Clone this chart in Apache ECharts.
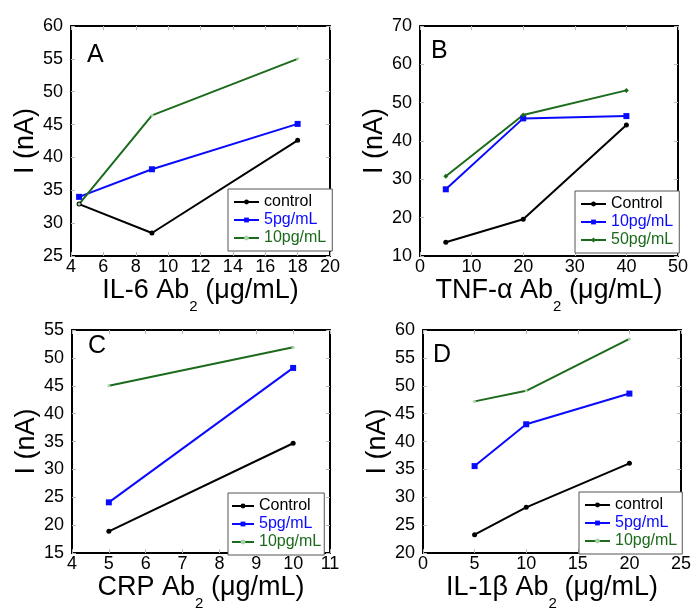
<!DOCTYPE html>
<html><head><meta charset="utf-8">
<script src="https://cdn.jsdelivr.net/npm/echarts@6/dist/echarts.min.js"></script>
<style>html,body{margin:0;padding:0;background:#fff}#c{width:694px;height:612px}</style>
</head><body><div id="c"></div>
<script>
// ---- data ----
const xA = [4.5, 9, 18];
const A_control = [32.9, 28.5, 42.6];
const A_5pg = [34.0, 38.2, 45.1];
const A_10pg = [32.9, 46.4, 55.0];

const xB = [5, 20, 40];
const B_control = [13.6, 19.6, 44.2];
const B_10pg = [27.4, 45.9, 46.5];
const B_50pg = [30.8, 46.8, 53.2];

const xC = [5, 10];
const C_control = [18.9, 34.7];
const C_5pg = [24.1, 48.2];
const C_10pg = [45.0, 51.9];

const xD = [5, 10, 20];
const D_control = [23.3, 28.2, 36.1];
const D_5pg = [35.6, 43.1, 48.6];
const D_10pg = [47.2, 49.1, 58.4];

const titlesX = ['IL-6 Ab{s|2} (μg/mL)', 'TNF-α Ab{s|2} (μg/mL)', 'CRP Ab{s|2} (μg/mL)', 'IL-1β Ab{s|2} (μg/mL)'];
const titleY = 'I (nA)';
const letters = ['A', 'B', 'C', 'D'];

// ---- styling ----
const FONT = 'Liberation Sans, Arial, sans-serif';
const BLACK = '#000000', BLUE = '#0a0aff', GREEN = '#1c6b1c', PALE = '#a8d4a8';

const panels = [
  { grid: {left: 71, top: 26, width: 259, height: 230}, x: [4, 20, 2], y: [25, 60, 5],
    legend: {left: 228, top: 189, w: 25, pad: [5, 6, 5, 5]}, letter: {x: 87, y: 56},
    series: [
      {name: 'control', xs: xA, ys: A_control, color: BLACK, symbol: 'circle', size: 5, symColor: BLACK},
      {name: '5pg/mL', xs: xA, ys: A_5pg, color: BLUE, symbol: 'rect', size: 6, symColor: BLUE},
      {name: '10pg/mL', xs: xA, ys: A_10pg, color: GREEN, symbol: 'circle', size: 3, symColor: PALE}
    ]},
  { grid: {left: 420, top: 26, width: 258, height: 230}, x: [0, 50, 10], y: [10, 70, 10],
    legend: {left: 575, top: 191, w: 25, pad: [5, 6, 5, 5]}, letter: {x: 431, y: 52},
    series: [
      {name: 'Control', xs: xB, ys: B_control, color: BLACK, symbol: 'circle', size: 5, symColor: BLACK},
      {name: '10pg/mL', xs: xB, ys: B_10pg, color: BLUE, symbol: 'rect', size: 6, symColor: BLUE},
      {name: '50pg/mL', xs: xB, ys: B_50pg, color: GREEN, symbol: 'diamond', size: 5, symColor: GREEN}
    ]},
  { grid: {left: 72, top: 330, width: 258, height: 228}, x: [4, 11, 1], y: [15, 55, 5],
    legend: {left: 228, top: 493, w: 22, pad: [5, 3, 5, 3]}, letter: {x: 88, y: 347},
    series: [
      {name: 'Control', xs: xC, ys: C_control, color: BLACK, symbol: 'circle', size: 5, symColor: BLACK},
      {name: '5pg/mL', xs: xC, ys: C_5pg, color: BLUE, symbol: 'rect', size: 6, symColor: BLUE},
      {name: '10pg/mL', xs: xC, ys: C_10pg, color: GREEN, symbol: 'circle', size: 3, symColor: PALE}
    ]},
  { grid: {left: 423, top: 330, width: 258, height: 229}, x: [0, 25, 5], y: [20, 60, 5],
    legend: {left: 579, top: 492, w: 25, pad: [5, 5, 5, 5]}, letter: {x: 433, y: 356},
    series: [
      {name: 'control', xs: xD, ys: D_control, color: BLACK, symbol: 'circle', size: 5, symColor: BLACK},
      {name: '5pg/mL', xs: xD, ys: D_5pg, color: BLUE, symbol: 'rect', size: 6, symColor: BLUE},
      {name: '10pg/mL', xs: xD, ys: D_10pg, color: GREEN, symbol: 'circle', size: 3, symColor: PALE}
    ]}
];

const grid = [], xAxis = [], yAxis = [], series = [], legend = [], graphic = [];
const tick = {show: true, inside: true, length: 4, lineStyle: {color: '#b8b8b8', width: 1}};
const line = {show: true, onZero: false, lineStyle: {color: '#000', width: 2}};

panels.forEach((p, i) => {
  const L = letters[i];
  grid.push(Object.assign({containLabel: false}, p.grid));
  // main x axis
  xAxis.push({type: 'value', gridIndex: i, min: p.x[0], max: p.x[1], interval: p.x[2], position: 'bottom',
    axisLine: line, axisTick: tick, splitLine: {show: false},
    axisLabel: {color: '#000', fontSize: 18, fontFamily: FONT, margin: 2},
    name: titlesX[i], nameLocation: 'middle', nameGap: 6,
    nameTextStyle: {color: '#000', fontSize: 27, fontFamily: FONT,
      rich: {s: {fontSize: 15, fontFamily: FONT, color: '#000', padding: [32, 0, 0, 0]}}}});
  // mirror top axis (ticks only)
  xAxis.push({type: 'value', gridIndex: i, min: p.x[0], max: p.x[1], interval: p.x[2], position: 'top',
    axisLine: line, axisTick: tick, splitLine: {show: false}, axisLabel: {show: false}});
  yAxis.push({type: 'value', gridIndex: i, min: p.y[0], max: p.y[1], interval: p.y[2], position: 'left',
    axisLine: line, axisTick: tick, splitLine: {show: false},
    axisLabel: {color: '#000', fontSize: 18, fontFamily: FONT, margin: 8},
    name: titleY, nameLocation: 'middle', nameGap: 30, nameRotate: 90,
    nameTextStyle: {color: '#000', fontSize: 27, fontFamily: FONT}});
  yAxis.push({type: 'value', gridIndex: i, min: p.y[0], max: p.y[1], interval: p.y[2], position: 'right',
    axisLine: line, axisTick: tick, splitLine: {show: false}, axisLabel: {show: false}});

  const names = [];
  p.series.forEach(s => {
    const id = L + '|' + s.name;
    names.push({name: id, textStyle: {color: s.color},
      itemStyle: {color: s.symColor}, lineStyle: {color: s.color, width: 2}});
    series.push({type: 'line', name: id, xAxisIndex: 2 * i, yAxisIndex: 2 * i,
      data: s.xs.map((x, k) => [x, s.ys[k]]),
      symbol: s.symbol, symbolSize: s.size, showSymbol: true,
      lineStyle: {color: s.color, width: 2}, itemStyle: {color: s.symColor},
      emphasis: {disabled: true}, animation: false});
  });
  legend.push({orient: 'vertical', left: p.legend.left, top: p.legend.top,
    data: names, formatter: n => n.split('|')[1],
    itemWidth: p.legend.w, itemHeight: 6, itemGap: 2,
    padding: p.legend.pad, borderWidth: 1, borderColor: '#555', backgroundColor: '#fff',
    textStyle: {fontSize: 16, fontFamily: FONT, lineHeight: 16}, selectedMode: false, z: 10});
  graphic.push({type: 'text', left: p.letter.x, top: p.letter.y - 13,
    style: {text: L, font: '25px ' + FONT, fill: '#000'}, z: 10});
});

const chart = echarts.init(document.getElementById('c'), null, {renderer: 'canvas'});
chart.setOption({animation: false, backgroundColor: '#fff', grid, xAxis, yAxis, series, legend, graphic});
</script></body></html>
